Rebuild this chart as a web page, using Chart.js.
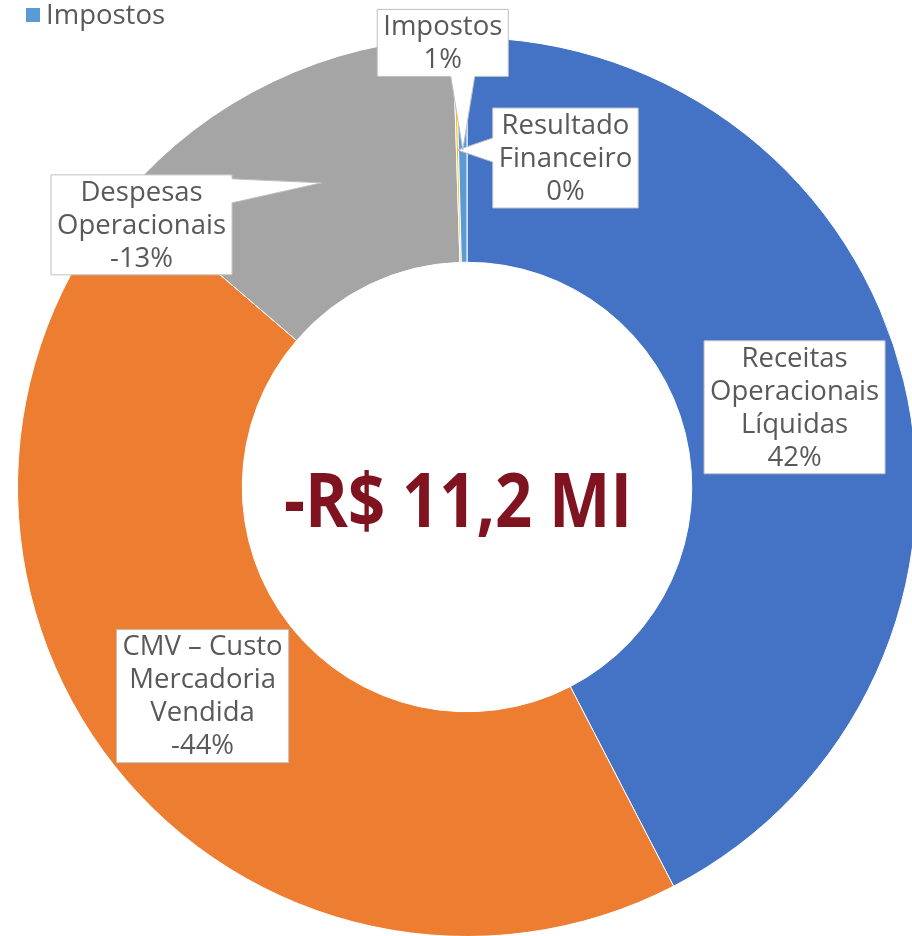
<!DOCTYPE html>
<html lang="pt">
<head>
  <meta charset="UTF-8">
  <title>Resultado</title>
  <style>
    html, body {
      margin: 0;
      padding: 0;
      background: #fff;
      overflow: hidden;
      width: 912px;
      height: 936px;
    }
    .wrap {
      position: absolute;
      left: 0;
      top: 0;
      width: 917px;
      height: 937px;
    }
    .legend {
      position: absolute;
      left: 26px;
      top: -1px;
      font-family: "Open Sans", sans-serif;
      font-size: 27.5px;
      line-height: 30px;
      color: #595959;
      display: flex;
      align-items: center;
    }
    .legend .box {
      width: 14px;
      height: 14px;
      margin-right: 6px;
      margin-top: 1px;
    }
  </style>
  <script src="https://cdn.jsdelivr.net/npm/chart.js"></script>
</head>
<body>
  <div class="wrap">
    <canvas id="resultChart" width="917" height="937"></canvas>
  </div>
  <div class="legend" id="legend"></div>
  <script>
    // categorias (quebradas em linhas como no gráfico original)
    const categories = [
      ['Receitas', 'Operacionais', 'Líquidas'],
      ['CMV – Custo', 'Mercadoria', 'Vendida'],
      ['Despesas', 'Operacionais'],
      ['Resultado', 'Financeiro'],
      ['Impostos']
    ];
    // participação (%) de cada linha, com sinal
    const values = [42.4, -43.9, -13.2, 0.1, 0.4];
    const percentLabels = ['42%', '-44%', '-13%', '0%', '1%'];
    const centerText = '-R$ 11,2 MI';

    const colors = ['#4472C4', '#ED7D31', '#A5A5A5', '#FFC000', '#5B9BD5'];
    // deslocamento da caixa do rótulo em relação ao centro da fatia
    const calloutOffsets = [[0, 0], [0, 0], [-180, 42], [108, 8], [-20, -107]];

    // legenda (só aparece Impostos no recorte original)
    const legendIdx = 4;
    document.getElementById('legend').innerHTML =
      '<span class="box" style="background:' + colors[legendIdx] + '"></span>' +
      categories[legendIdx].join(' ');

    function drawCallout(ctx, lines, cx, cy, tipX, tipY) {
      ctx.font = '27.5px "Open Sans"';
      const lh = 33;
      const w = Math.max(...lines.map(l => ctx.measureText(l).width)) + 12;
      const h = lines.length * lh + 1;
      const x0 = cx - w / 2, y0 = cy - h / 2, x1 = x0 + w, y1 = y0 + h;
      const half = 12;
      const clamp = (v, a, b) => Math.max(a, Math.min(b, v));

      let edge = null;
      const dx = tipX < x0 ? x0 - tipX : (tipX > x1 ? tipX - x1 : 0);
      const dy = tipY < y0 ? y0 - tipY : (tipY > y1 ? tipY - y1 : 0);
      if (dx > 0 || dy > 0) {
        if (dx / w >= dy / h) edge = tipX < x0 ? 'left' : 'right';
        else edge = tipY < y0 ? 'top' : 'bottom';
      }

      const pts = [[x0, y0]];
      if (edge === 'top') {
        const m = clamp(tipX, x0 + 4 + half, x1 - 4 - half);
        pts.push([m - half, y0], [tipX, tipY], [m + half, y0]);
      }
      pts.push([x1, y0]);
      if (edge === 'right') {
        const m = clamp(tipY, y0 + 4 + half, y1 - 4 - half);
        pts.push([x1, m - half], [tipX, tipY], [x1, m + half]);
      }
      pts.push([x1, y1]);
      if (edge === 'bottom') {
        const m = clamp(tipX, x0 + 4 + half, x1 - 4 - half);
        pts.push([m + half, y1], [tipX, tipY], [m - half, y1]);
      }
      pts.push([x0, y1]);
      if (edge === 'left') {
        const m = clamp(tipY, y0 + 4 + half, y1 - 4 - half);
        pts.push([x0, m + half], [tipX, tipY], [x0, m - half]);
      }

      ctx.beginPath();
      pts.forEach((p, i) => i ? ctx.lineTo(p[0], p[1]) : ctx.moveTo(p[0], p[1]));
      ctx.closePath();
      ctx.fillStyle = '#ffffff';
      ctx.fill();
      ctx.strokeStyle = '#BFBFBF';
      ctx.lineWidth = 1;
      ctx.stroke();

      ctx.fillStyle = '#595959';
      ctx.textAlign = 'center';
      ctx.textBaseline = 'middle';
      lines.forEach((l, i) => {
        ctx.fillText(l, cx, cy - (lines.length - 1) / 2 * lh + i * lh + 1);
      });
    }

    const calloutPlugin = {
      id: 'callouts',
      afterDatasetsDraw(chart) {
        const ctx = chart.ctx;
        const meta = chart.getDatasetMeta(0);
        ctx.save();
        meta.data.forEach((arc, i) => {
          const p = arc.getCenterPoint();
          const lines = categories[i].concat([percentLabels[i]]);
          drawCallout(ctx, lines, p.x + calloutOffsets[i][0], p.y + calloutOffsets[i][1], p.x, p.y);
        });
        ctx.restore();
      }
    };

    const centerPlugin = {
      id: 'centerText',
      afterDraw(chart) {
        const ctx = chart.ctx;
        const arc = chart.getDatasetMeta(0).data[0];
        ctx.save();
        ctx.font = 'bold 76px "Open Sans"';
        const tw = ctx.measureText(centerText).width;
        const sx = 348 / tw;
        ctx.translate(arc.x - 9, arc.y + 40);
        ctx.scale(sx, 1);
        ctx.fillStyle = '#7F131F';
        ctx.textAlign = 'center';
        ctx.textBaseline = 'alphabetic';
        ctx.fillText(centerText, 0, 0);
        ctx.restore();
      }
    };

    new Chart(document.getElementById('resultChart'), {
      type: 'doughnut',
      data: {
        labels: categories,
        datasets: [{
          data: values.map(v => Math.abs(v)),
          backgroundColor: colors,
          borderColor: '#ffffff',
          borderWidth: 1
        }]
      },
      options: {
        responsive: false,
        animation: false,
        cutout: '50%',
        layout: { padding: { left: 17, top: 37 } },
        plugins: {
          legend: { display: false },
          tooltip: { enabled: false }
        }
      },
      plugins: [calloutPlugin, centerPlugin]
    });
  </script>
</body>
</html>
